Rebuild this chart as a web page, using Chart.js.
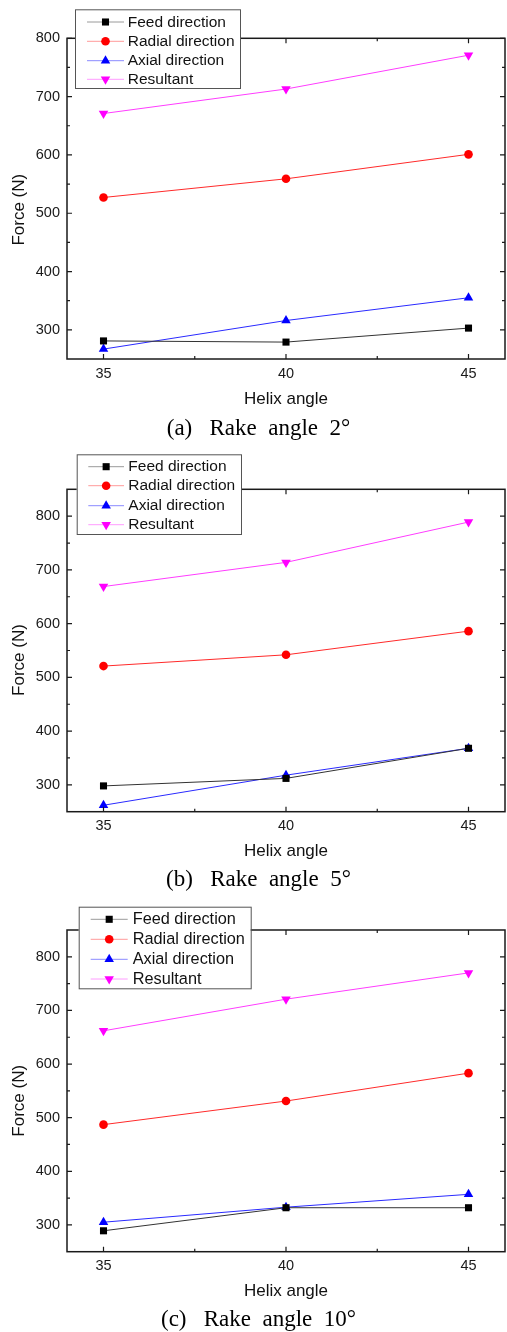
<!DOCTYPE html>
<html lang="en">
<head>
  <meta charset="UTF-8" />
  <title>Cutting force vs helix angle</title>
  <script src="https://cdn.jsdelivr.net/npm/chart.js"></script>
  <style>
    body { margin: 0; background: #fff; }
    canvas.panel { position: absolute; left: 0; }
  </style>
</head>
<body>

  <canvas id="chartA" class="panel" width="507" height="445" style="top:0px"></canvas>
  <canvas id="chartB" class="panel" width="507" height="448" style="top:445px"></canvas>
  <canvas id="chartC" class="panel" width="507" height="439" style="top:893px"></canvas>

  <script>
    // shared axes
    const helixAngles = [35, 40, 45];
    const xTicks = [35, 40, 45];
    const xMinorTicks = [37.5, 42.5];
    const yTicks = [300, 400, 500, 600, 700, 800];
    const yMinorTicks = [350, 450, 550, 650, 750];
    const seriesNames = ['Feed direction', 'Radial direction', 'Axial direction', 'Resultant'];

    // (a) rake angle 2°
    const feedA = [281, 279, 303];
    const radialA = [527, 559, 601];
    const axialA = [267, 316, 355];
    const resultantA = [671, 713, 771];

    // (b) rake angle 5°
    const feedB = [298, 312, 368];
    const radialB = [521, 542, 586];
    const axialB = [262, 318, 368];
    const resultantB = [669, 714, 789];

    // (c) rake angle 10°
    const feedC = [289, 332, 332];
    const radialC = [487, 531, 583];
    const axialC = [305, 333, 357];
    const resultantC = [662, 721, 770];

    const SANS = '"Liberation Sans", Arial, sans-serif';
    const SERIF = '"Liberation Serif", "Times New Roman", serif';

    const styles = [
      { line: '#333333', legendLine: '#9a9a9a', fill: '#000000', point: 'rect', radius: 5, rot: 0 },
      { line: '#ff2a2a', legendLine: '#ff9a9a', fill: '#ff0000', point: 'circle', radius: 4.3, rot: 0 },
      { line: '#2a2aff', legendLine: '#8a8aff', fill: '#0000ff', point: 'triangle', radius: 5.5, rot: 0 },
      { line: '#ff3cff', legendLine: '#ff9cff', fill: '#ff00ff', point: 'triangle', radius: 5.5, rot: 180 }
    ];

    function marker(ctx, st, x, y) {
      ctx.save();
      ctx.fillStyle = st.fill;
      ctx.beginPath();
      const r = st.radius;
      if (st.point === 'rect') {
        const s = r * Math.SQRT1_2;
        ctx.rect(x - s, y - s, 2 * s, 2 * s);
      } else if (st.point === 'circle') {
        ctx.arc(x, y, r, 0, Math.PI * 2);
      } else {
        let a = st.rot * Math.PI / 180;
        ctx.moveTo(x + Math.sin(a) * r, y - Math.cos(a) * r);
        a += Math.PI * 2 / 3;
        ctx.lineTo(x + Math.sin(a) * r, y - Math.cos(a) * r);
        a += Math.PI * 2 / 3;
        ctx.lineTo(x + Math.sin(a) * r, y - Math.cos(a) * r);
        ctx.closePath();
      }
      ctx.fill();
      ctx.restore();
    }

    function makePanel(id, series, geo) {
      const decor = {
        id: 'decor',
        afterDatasetsDraw(chart) {
          const ctx = chart.ctx;
          const { left, right, top, bottom } = chart.chartArea;
          const xs = chart.scales.x, ys = chart.scales.y;
          ctx.save();
          ctx.strokeStyle = '#1a1a1a';
          ctx.lineWidth = 1.5;
          ctx.strokeRect(left, top, right - left, bottom - top);
          ctx.lineWidth = 1.2;
          ctx.beginPath();
          const tickX = (vals, len) => vals.forEach(v => {
            const px = xs.getPixelForValue(v);
            ctx.moveTo(px, bottom); ctx.lineTo(px, bottom - len);
            ctx.moveTo(px, top); ctx.lineTo(px, top + len);
          });
          const tickY = (vals, len) => vals.forEach(v => {
            const py = ys.getPixelForValue(v);
            ctx.moveTo(left, py); ctx.lineTo(left + len, py);
            ctx.moveTo(right, py); ctx.lineTo(right - len, py);
          });
          tickX(xTicks, 5); tickX(xMinorTicks, 3);
          tickY(yTicks, 5); tickY(yMinorTicks, 3);
          ctx.stroke();
          ctx.restore();
        },
        afterDraw(chart) {
          const ctx = chart.ctx;
          const { left, right } = chart.chartArea;
          ctx.save();
          // axis titles
          ctx.fillStyle = '#111';
          ctx.font = '17px ' + SANS;
          ctx.textAlign = 'center';
          ctx.textBaseline = 'middle';
          ctx.fillText('Helix angle', (left + right) / 2, geo.xTitleY);
          ctx.save();
          ctx.translate(19.5, geo.yTitleY);
          ctx.rotate(-Math.PI / 2);
          ctx.fillText('Force (N)', 0, 0);
          ctx.restore();

          // legend box
          const lg = geo.legend;
          ctx.fillStyle = '#fff';
          ctx.fillRect(lg.x0, lg.y0, lg.x1 - lg.x0, lg.y1 - lg.y0);
          ctx.strokeStyle = '#555';
          ctx.lineWidth = 1;
          ctx.strokeRect(lg.x0 + 0.5, lg.y0 + 0.5, lg.x1 - lg.x0, lg.y1 - lg.y0);
          ctx.font = lg.font + 'px ' + SANS;
          ctx.textAlign = 'left';
          lg.rows.forEach((ry, i) => {
            const st = styles[i];
            ctx.strokeStyle = st.legendLine;
            ctx.lineWidth = 1;
            ctx.beginPath();
            ctx.moveTo(lg.l0, ry); ctx.lineTo(lg.l1, ry);
            ctx.stroke();
            marker(ctx, st, (lg.l0 + lg.l1) / 2, ry);
            ctx.fillStyle = '#111';
            ctx.fillText(seriesNames[i], lg.tx, ry + 0.5);
          });

          // caption
          ctx.fillStyle = '#000';
          ctx.font = '23px ' + SERIF;
          ctx.textAlign = 'center';
          ctx.fillText(geo.caption, 258.5, geo.captionY);
          ctx.restore();
        }
      };

      new Chart(document.getElementById(id), {
        type: 'line',
        data: {
          labels: helixAngles,
          datasets: series.map((vals, i) => ({
            label: seriesNames[i],
            data: helixAngles.map((h, j) => ({ x: h, y: vals[j] })),
            borderColor: styles[i].line,
            borderWidth: 1,
            backgroundColor: styles[i].fill,
            pointBackgroundColor: styles[i].fill,
            pointBorderWidth: 0,
            pointStyle: styles[i].point,
            pointRadius: styles[i].radius,
            pointRotation: styles[i].rot,
            tension: 0,
            clip: false
          }))
        },
        options: {
          responsive: false,
          animation: false,
          devicePixelRatio: 1,
          layout: { autoPadding: false, padding: { top: geo.plotTop, right: 2, left: 0, bottom: 0 } },
          plugins: { legend: { display: false }, tooltip: { enabled: false } },
          scales: {
            x: {
              type: 'linear', min: 34, max: 46,
              afterBuildTicks: s => { s.ticks = xTicks.map(v => ({ value: v })); },
              afterFit: s => { s.height = geo.h - geo.plotBottom; s.paddingLeft = 0; s.paddingRight = 0; },
              grid: { display: false, drawTicks: false },
              border: { display: false },
              ticks: { padding: geo.xTickPad, color: '#1a1a1a', font: { family: SANS, size: 14.5 } }
            },
            y: {
              min: 250, max: geo.yMax,
              afterBuildTicks: s => { s.ticks = yTicks.map(v => ({ value: v })); },
              afterFit: s => { s.width = 67; s.paddingTop = 0; s.paddingBottom = 0; },
              grid: { display: false, drawTicks: false },
              border: { display: false },
              ticks: { padding: 7, color: '#1a1a1a', font: { family: SANS, size: 14.5 } }
            }
          }
        },
        plugins: [decor]
      });
    }

    makePanel('chartA', [feedA, radialA, axialA, resultantA], {
      h: 445, plotTop: 38.3, plotBottom: 359, yMax: 800, xTickPad: 6,
      xTitleY: 399, yTitleY: 209.7, captionY: 429, caption: '(a)   Rake  angle  2°',
      legend: { x0: 75, x1: 240, y0: 9.3, y1: 88, rows: [22, 41.3, 60.7, 79.3], l0: 87, l1: 124, tx: 127.7, font: 15.5 }
    });

    makePanel('chartB', [feedB, radialB, axialB, resultantB], {
      h: 448, plotTop: 44.3, plotBottom: 366.7, yMax: 850, xTickPad: 6,
      xTitleY: 406.7, yTitleY: 215, captionY: 435, caption: '(b)   Rake  angle  5°',
      legend: { x0: 76.7, x1: 241, y0: 9.3, y1: 89, rows: [21.7, 40.7, 60.7, 79.7], l0: 88.3, l1: 124, tx: 128.3, font: 15.5 }
    });

    makePanel('chartC', [feedC, radialC, axialC, resultantC], {
      h: 439, plotTop: 37, plotBottom: 358.7, yMax: 850, xTickPad: 6,
      xTitleY: 398.7, yTitleY: 207.8, captionY: 427, caption: '(c)   Rake  angle  10°',
      legend: { x0: 78.7, x1: 250.7, y0: 13.7, y1: 95.3, rows: [26.3, 46.3, 66.3, 86], l0: 90.7, l1: 127.7, tx: 132.7, font: 16.3 }
    });
  </script>

</body>
</html>
